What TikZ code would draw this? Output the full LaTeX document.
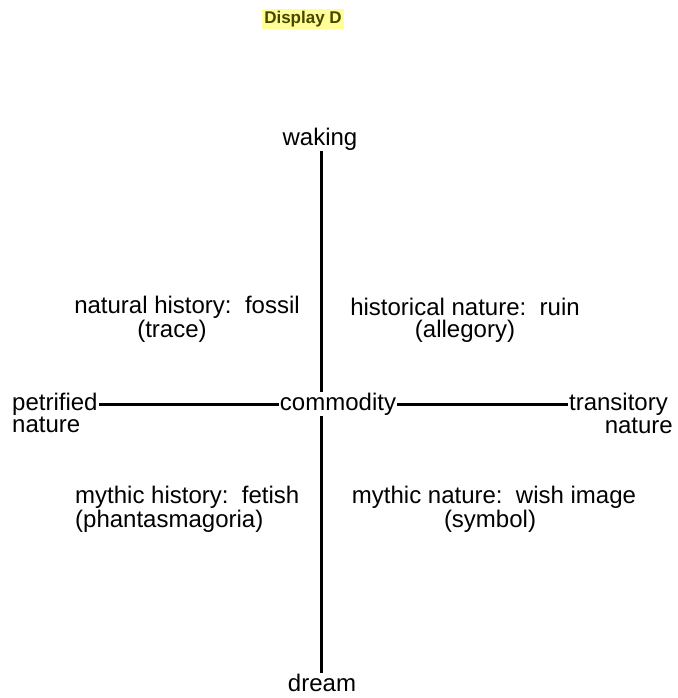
\documentclass[tikz,border=0pt]{standalone}
\usepackage{fontspec}
\setmainfont{Liberation Sans}
\usepackage{tikz}
\definecolor{hilite}{RGB}{255,255,150}
\definecolor{titleink}{RGB}{70,70,0}

\begin{document}
\begin{tikzpicture}[x=1pt,y=-1pt,
	lbl/.style={inner sep=1pt,font=\fontsize{24}{26}\selectfont},
	axis/.style={line width=3pt}]
	\useasboundingbox (0,0) rectangle (677,698);
	
	% title
	\node[fill=hilite,text=titleink,inner sep=2.5pt,font=\fontsize{17}{19}\selectfont\bfseries] (title) at (303,19) {Display D};
	
	% poles of the axes
	\node[lbl] (waking) at (320,139) {waking};
	\node[lbl] (dream) at (322,683) {dream};
	\node[lbl] (commodity) at (338,404) {commodity};
	\node[lbl,anchor=west] (petrified) at (11,404) {petrified};
	\node[lbl,anchor=west] (petrinat) at (11,425) {nature};
	\node[lbl,anchor=east] (transitory) at (669,404) {transitory};
	\node[lbl,anchor=east] (transnat) at (674,426) {nature};
	
	\draw[axis] (waking.south -| 321,0) -- (commodity.north -| 321,0);
	\draw[axis] (commodity.south -| 321,0) -- (dream.north -| 321,0);
	\draw[axis] (petrified.east) -- (commodity.west);
	\draw[axis] (commodity.east) -- (transitory.west);
	
	% quadrants
	\node[lbl] (nathist) at (187,307) {natural history:\ \ fossil};
	\node[lbl] (trace) at (172,331) {(trace)};
	\node[lbl] (histnat) at (465,307) {historical nature:\ \ ruin};
	\node[lbl] (allegory) at (465,331) {(allegory)};
	\node[lbl,anchor=west] (mythhist) at (74,497) {mythic history:\ \ fetish};
	\node[lbl,anchor=west] (phantas) at (74,521) {(phantasmagoria)};
	\node[lbl] (mythnat) at (494,497) {mythic nature:\ \ wish image};
	\node[lbl] (symbol) at (490,521) {(symbol)};
	
\end{tikzpicture}
\end{document}
